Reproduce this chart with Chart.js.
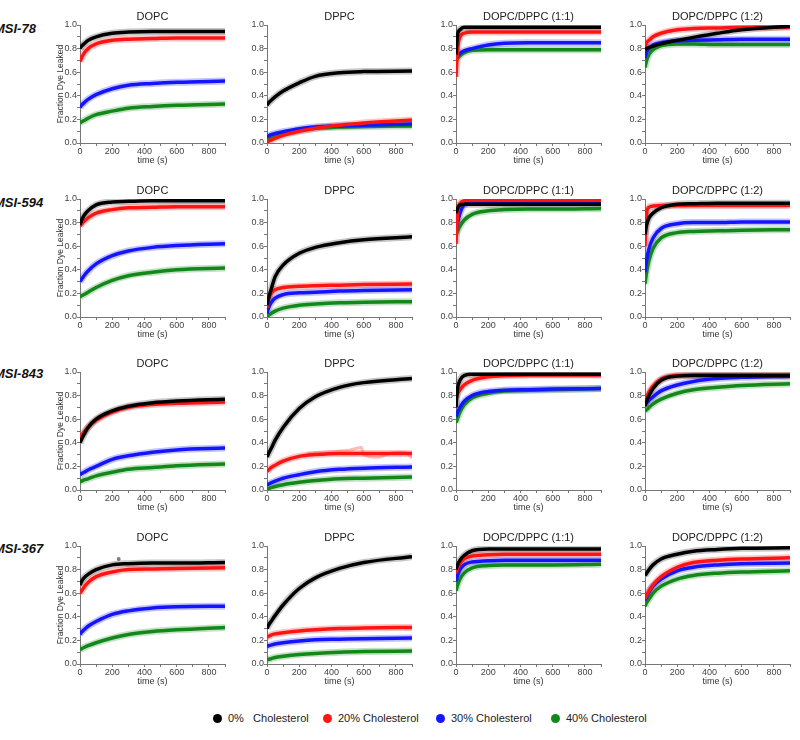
<!DOCTYPE html>
<html>
<head>
<meta charset="utf-8">
<script src="https://cdn.jsdelivr.net/npm/chart.js@4.4.1/dist/chart.umd.min.js"></script>
<style>
  body { margin: 0; width: 800px; height: 740px; overflow: hidden; background: #fff; position: relative;
         font-family: "Liberation Sans", Arial, sans-serif; }
  canvas { position: absolute; }
  .row-label { position: absolute; font-size: 13px; font-weight: bold; font-style: italic; color: #111; line-height: 14px; }
  .legend-item { position: absolute; top: 711px; font-size: 11px; color: #222; white-space: pre; line-height: 14px; }
  .legend-item span { display: inline-block; width: 9px; height: 9px; border-radius: 50%; margin-right: 6px; vertical-align: -1px; }
</style>
</head>
<body>
<script>
const times = [0, 10, 25, 50, 100, 200, 300, 450, 600, 900];
const peptides = ['MSI-78', 'MSI-594', 'MSI-843', 'MSI-367'];
const lipids = ['DOPC', 'DPPC', 'DOPC/DPPC (1:1)', 'DOPC/DPPC (1:2)'];
const seriesNames = ['0%   Cholesterol', '20% Cholesterol', '30% Cholesterol', '40% Cholesterol'];
const seriesColors = ['#000000', '#ff1414', '#1414ff', '#12871a'];
const bandColors = ['rgba(0,0,0,0.22)', 'rgba(255,20,20,0.25)', 'rgba(20,20,255,0.25)', 'rgba(18,135,26,0.25)'];

// each panel: [0%, 20%, 30%, 40%] cholesterol, values at `times`
const msi78_dopc = [
  [0.80, 0.82, 0.84, 0.87, 0.90, 0.93, 0.94, 0.945, 0.945, 0.945],
  [0.69, 0.72, 0.76, 0.80, 0.84, 0.87, 0.88, 0.885, 0.89, 0.89],
  [0.30, 0.32, 0.34, 0.37, 0.41, 0.46, 0.49, 0.505, 0.515, 0.525],
  [0.17, 0.18, 0.19, 0.21, 0.24, 0.27, 0.295, 0.31, 0.32, 0.33]
];
const msi78_dppc = [
  [0.32, 0.34, 0.36, 0.39, 0.44, 0.51, 0.565, 0.595, 0.605, 0.61],
  [0.01, 0.015, 0.025, 0.04, 0.065, 0.10, 0.125, 0.15, 0.17, 0.195],
  [0.055, 0.06, 0.07, 0.08, 0.095, 0.12, 0.135, 0.145, 0.15, 0.16],
  [0.035, 0.04, 0.05, 0.06, 0.08, 0.105, 0.125, 0.135, 0.14, 0.145]
];
const msi78_mix11 = [
  [0.75, 0.92, 0.96, 0.98, 0.98, 0.98, 0.98, 0.98, 0.98, 0.98],
  [0.56, 0.80, 0.90, 0.93, 0.94, 0.94, 0.94, 0.94, 0.94, 0.94],
  [0.72, 0.74, 0.76, 0.78, 0.80, 0.83, 0.845, 0.85, 0.85, 0.85],
  [0.70, 0.72, 0.74, 0.765, 0.785, 0.79, 0.79, 0.79, 0.79, 0.79]
];
const msi78_mix12 = [
  [0.79, 0.80, 0.81, 0.82, 0.84, 0.87, 0.895, 0.93, 0.96, 0.99],
  [0.82, 0.85, 0.87, 0.90, 0.93, 0.96, 0.97, 0.975, 0.98, 0.98],
  [0.72, 0.77, 0.80, 0.83, 0.85, 0.865, 0.87, 0.875, 0.88, 0.88],
  [0.64, 0.70, 0.75, 0.79, 0.825, 0.84, 0.84, 0.835, 0.835, 0.835]
];

const msi594_dopc = [
  [0.78, 0.82, 0.86, 0.90, 0.95, 0.975, 0.98, 0.985, 0.985, 0.985],
  [0.77, 0.79, 0.81, 0.84, 0.88, 0.91, 0.925, 0.93, 0.935, 0.935],
  [0.30, 0.32, 0.35, 0.39, 0.45, 0.52, 0.56, 0.59, 0.605, 0.62],
  [0.17, 0.18, 0.19, 0.21, 0.25, 0.31, 0.35, 0.38, 0.40, 0.415]
];
const msi594_dppc = [
  [0.10, 0.16, 0.23, 0.34, 0.44, 0.54, 0.59, 0.63, 0.655, 0.68],
  [0.08, 0.15, 0.20, 0.23, 0.25, 0.26, 0.265, 0.27, 0.275, 0.28],
  [0.03, 0.08, 0.12, 0.16, 0.19, 0.205, 0.21, 0.22, 0.225, 0.23],
  [0.005, 0.015, 0.03, 0.05, 0.075, 0.10, 0.11, 0.12, 0.125, 0.13]
];
const msi594_mix11 = [
  [0.88, 0.92, 0.95, 0.955, 0.955, 0.955, 0.955, 0.955, 0.955, 0.955],
  [0.62, 0.88, 0.96, 0.985, 0.99, 0.99, 0.99, 0.99, 0.99, 0.99],
  [0.72, 0.80, 0.88, 0.95, 0.975, 0.98, 0.98, 0.98, 0.98, 0.98],
  [0.70, 0.73, 0.77, 0.82, 0.87, 0.90, 0.91, 0.915, 0.915, 0.92]
];
const msi594_mix12 = [
  [0.70, 0.78, 0.84, 0.88, 0.925, 0.955, 0.96, 0.965, 0.965, 0.965],
  [0.60, 0.88, 0.93, 0.94, 0.945, 0.945, 0.945, 0.945, 0.945, 0.945],
  [0.38, 0.48, 0.58, 0.67, 0.75, 0.79, 0.80, 0.80, 0.805, 0.805],
  [0.28, 0.38, 0.48, 0.58, 0.67, 0.715, 0.725, 0.73, 0.735, 0.74]
];

const msi843_dopc = [
  [0.40, 0.43, 0.47, 0.53, 0.60, 0.67, 0.71, 0.74, 0.755, 0.77],
  [0.44, 0.46, 0.49, 0.53, 0.59, 0.66, 0.70, 0.725, 0.735, 0.745],
  [0.13, 0.14, 0.15, 0.17, 0.20, 0.26, 0.29, 0.32, 0.34, 0.355],
  [0.07, 0.075, 0.085, 0.095, 0.12, 0.15, 0.175, 0.19, 0.205, 0.22]
];
const msi843_dppc = [
  [0.28, 0.31, 0.35, 0.42, 0.53, 0.69, 0.79, 0.87, 0.91, 0.945],
  [0.16, 0.17, 0.19, 0.21, 0.245, 0.285, 0.30, 0.31, 0.31, 0.31],
  [0.045, 0.05, 0.06, 0.075, 0.10, 0.13, 0.155, 0.175, 0.185, 0.195],
  [0.01, 0.013, 0.02, 0.03, 0.045, 0.065, 0.08, 0.095, 0.10, 0.11]
];
const msi843_mix11 = [
  [0.70, 0.86, 0.93, 0.97, 0.98, 0.98, 0.98, 0.98, 0.98, 0.98],
  [0.79, 0.82, 0.85, 0.89, 0.93, 0.96, 0.97, 0.975, 0.975, 0.975],
  [0.62, 0.66, 0.70, 0.75, 0.80, 0.835, 0.845, 0.85, 0.855, 0.86],
  [0.57, 0.61, 0.66, 0.72, 0.78, 0.82, 0.84, 0.845, 0.85, 0.86]
];
const msi843_mix12 = [
  [0.71, 0.75, 0.80, 0.86, 0.93, 0.965, 0.97, 0.97, 0.97, 0.97],
  [0.74, 0.78, 0.83, 0.88, 0.94, 0.97, 0.975, 0.975, 0.975, 0.975],
  [0.72, 0.74, 0.76, 0.79, 0.84, 0.89, 0.92, 0.945, 0.955, 0.965],
  [0.67, 0.68, 0.70, 0.73, 0.77, 0.82, 0.85, 0.87, 0.885, 0.90]
];

const msi367_dopc = [
  [0.67, 0.70, 0.73, 0.76, 0.80, 0.84, 0.85, 0.855, 0.855, 0.86],
  [0.60, 0.62, 0.65, 0.69, 0.74, 0.78, 0.80, 0.805, 0.81, 0.815],
  [0.25, 0.27, 0.29, 0.32, 0.36, 0.42, 0.45, 0.475, 0.485, 0.49],
  [0.12, 0.13, 0.14, 0.155, 0.18, 0.22, 0.25, 0.275, 0.29, 0.31]
];
const msi367_dppc = [
  [0.30, 0.33, 0.36, 0.41, 0.50, 0.64, 0.73, 0.81, 0.86, 0.91],
  [0.23, 0.235, 0.245, 0.255, 0.265, 0.28, 0.29, 0.30, 0.305, 0.31],
  [0.15, 0.155, 0.16, 0.17, 0.18, 0.195, 0.205, 0.21, 0.215, 0.22],
  [0.035, 0.04, 0.045, 0.055, 0.065, 0.08, 0.09, 0.10, 0.105, 0.11]
];
const msi367_mix11 = [
  [0.80, 0.84, 0.88, 0.92, 0.96, 0.975, 0.975, 0.975, 0.975, 0.975],
  [0.77, 0.81, 0.85, 0.89, 0.915, 0.925, 0.93, 0.93, 0.93, 0.93],
  [0.70, 0.75, 0.80, 0.84, 0.865, 0.875, 0.88, 0.88, 0.88, 0.88],
  [0.62, 0.67, 0.72, 0.77, 0.815, 0.835, 0.84, 0.84, 0.84, 0.845]
];
const msi367_mix12 = [
  [0.75, 0.77, 0.80, 0.84, 0.89, 0.93, 0.955, 0.97, 0.98, 0.985],
  [0.55, 0.58, 0.62, 0.67, 0.74, 0.82, 0.86, 0.88, 0.89, 0.90],
  [0.54, 0.57, 0.61, 0.66, 0.72, 0.79, 0.82, 0.84, 0.85, 0.855],
  [0.49, 0.52, 0.55, 0.60, 0.66, 0.72, 0.75, 0.77, 0.78, 0.79]
];

// noisy raw trace of MSI-843 / DPPC / 20% cholesterol
const rawTimes843 = [250, 350, 450, 520, 585, 600, 650, 700, 760, 820, 870, 900];
const rawRed843 = [0.31, 0.32, 0.33, 0.34, 0.36, 0.30, 0.28, 0.28, 0.31, 0.32, 0.31, 0.27];
// stray point of MSI-367 / DOPC / 0% cholesterol
const strayTime367 = [240];
const strayBlack367 = [0.89];

const panels = [
  [msi78_dopc, msi78_dppc, msi78_mix11, msi78_mix12],
  [msi594_dopc, msi594_dppc, msi594_mix11, msi594_mix12],
  [msi843_dopc, msi843_dppc, msi843_mix11, msi843_mix12],
  [msi367_dopc, msi367_dppc, msi367_mix11, msi367_mix12]
];

// layout of the grid
const axisX = [80, 267, 456, 645];
const plotTop = [25, 199, 372, 546];
const rowLabelY = [22, 196, 367, 542];
const plotW = 145, plotH = 118;
const yAxisW = 24, titleH = 18, xAxisH = 26, padRight = 4;
const legendX = [213, 323, 436, 551];

Chart.defaults.font.family = "'Liberation Sans', Arial, sans-serif";
Chart.defaults.color = '#333';

const toPoints = (xs, ys) => xs.map((x, i) => ({ x: x, y: ys[i] }));

peptides.forEach((pep, r) => {
  const lab = document.createElement('div');
  lab.className = 'row-label';
  lab.textContent = pep;
  lab.style.left = '-6px';
  lab.style.top = rowLabelY[r] + 'px';
  document.body.appendChild(lab);

  lipids.forEach((lipid, c) => {
    const cv = document.createElement('canvas');
    cv.width = yAxisW + plotW + padRight;
    cv.height = titleH + plotH + xAxisH;
    cv.style.left = (axisX[c] - yAxisW) + 'px';
    cv.style.top = (plotTop[r] - titleH) + 'px';
    document.body.appendChild(cv);

    const series = panels[r][c];
    const datasets = [];
    series.forEach((vals, i) => {
      datasets.push({
        label: seriesNames[i], data: toPoints(times, vals), borderColor: seriesColors[i],
        borderWidth: 3.5, pointRadius: 0, cubicInterpolationMode: 'monotone', order: 1
      });
      datasets.push({
        label: seriesNames[i] + ' raw', data: toPoints(times, vals), borderColor: bandColors[i],
        borderWidth: 7, pointRadius: 0, cubicInterpolationMode: 'monotone', order: 3
      });
    });
    if (r === 2 && c === 1) {
      datasets.push({
        label: 'raw', data: toPoints(rawTimes843, rawRed843), borderColor: 'rgba(255,60,60,0.35)',
        borderWidth: 3, pointRadius: 0, tension: 0.2, order: 2
      });
    }
    if (r === 3 && c === 0) {
      datasets.push({
        label: 'stray', data: toPoints(strayTime367, strayBlack367), showLine: false,
        pointRadius: 2, pointBackgroundColor: 'rgba(0,0,0,0.5)', pointBorderWidth: 0, order: 2
      });
    }

    new Chart(cv, {
      type: 'line',
      data: { datasets: datasets },
      options: {
        responsive: false,
        animation: false,
        devicePixelRatio: 1,
        layout: { padding: { left: 0, right: padRight, top: 0, bottom: 0 } },
        plugins: {
          legend: { display: false },
          tooltip: { enabled: false },
          title: {
            display: true, text: lipid, fullSize: false, color: '#222',
            font: { size: 11, weight: 'normal', lineHeight: '14px' },
            padding: { top: 3, bottom: 1 }
          }
        },
        scales: {
          x: {
            type: 'linear', min: 0, max: 900,
            border: { color: '#777', width: 1 },
            grid: { drawOnChartArea: false, drawTicks: true, tickLength: 3, color: '#777' },
            ticks: {
              stepSize: 100, includeBounds: false, autoSkip: false, maxRotation: 0,
              padding: 0, font: { size: 9 }, color: '#444',
              callback: v => (v % 200 === 0 ? String(v) : '')
            },
            title: { display: true, text: 'time (s)', font: { size: 9 }, color: '#333', padding: { top: 0, bottom: 3 } },
            afterFit: s => { s.width = s.width; s.height = xAxisH; }
          },
          y: {
            min: 0, max: 1,
            border: { color: '#777', width: 1 },
            grid: { drawOnChartArea: false, drawTicks: true, tickLength: 3, color: '#777' },
            ticks: {
              stepSize: 0.1, autoSkip: false, padding: 0, font: { size: 9 }, color: '#444',
              callback: v => (Math.round(v * 10) % 2 === 0 ? v.toFixed(1) : '')
            },
            title: {
              display: c === 0, text: 'Fraction Dye Leaked', font: { size: 8.5 }, color: '#333',
              padding: { top: 0, bottom: 0 }
            },
            afterFit: s => { s.width = yAxisW; }
          }
        }
      }
    });
  });
});

seriesNames.forEach((name, i) => {
  const item = document.createElement('div');
  item.className = 'legend-item';
  item.style.left = legendX[i] + 'px';
  const dot = document.createElement('span');
  dot.style.background = seriesColors[i];
  item.appendChild(dot);
  item.appendChild(document.createTextNode(name));
  document.body.appendChild(item);
});
</script>
</body>
</html>
